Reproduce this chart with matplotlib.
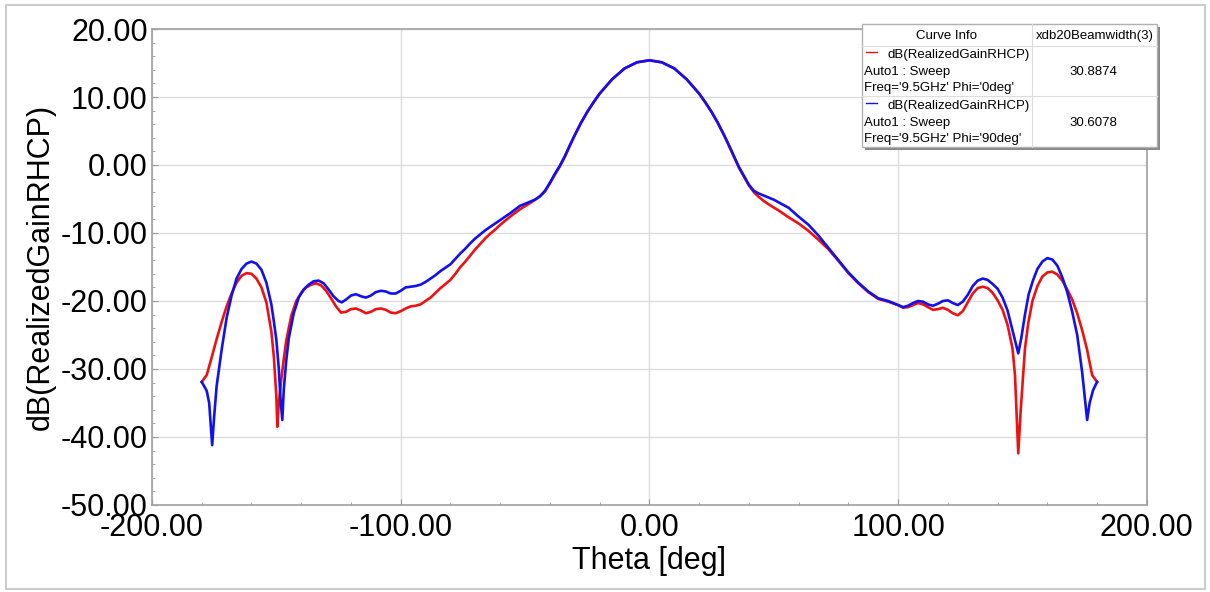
import matplotlib.pyplot as plt
from matplotlib.patches import Rectangle
from matplotlib.ticker import MultipleLocator, FormatStrFormatter

plt.rcParams['font.family'] = ['Liberation Sans', 'DejaVu Sans']

# Phi = 0deg (red)
theta_phi0 = [-180, -178, -176, -174, -172, -170, -168, -166, -164, -162, -160, -158, -156, -154,
              -152, -151, -150, -149.6, -149, -148, -147, -146, -144, -142, -140, -138, -136, -134,
              -132, -130, -128, -126, -124, -122, -120, -118, -116, -114, -112, -110, -108, -106,
              -104, -102, -100, -98, -96, -94, -92, -90, -88, -86, -84, -82, -80, -78, -76, -74,
              -72, -70, -68, -66, -64, -62, -60, -56, -52, -48, -46, -44, -42, -40, -38, -36, -34,
              -32, -30, -27.5, -25, -22.5, -20, -15, -10, -5, 0, 5, 10, 15, 20, 22.5, 25, 27.5, 30,
              32, 34, 36, 38, 40, 42, 44, 46, 48, 52, 56, 60, 64,
              68, 72, 76, 80, 84, 88, 92, 96, 100, 102, 104, 106, 108, 110, 112, 114, 116, 118, 120,
              122, 124, 126, 128, 130, 132, 134, 136, 138, 140, 142, 144, 146, 147, 148.3, 149.3,
              150.3, 151, 152.3, 154, 156, 158, 160, 162, 164, 166, 168, 170, 172, 174, 176, 178, 180]
gain_phi0 = [-31.9, -30.9, -28.3, -25.6, -23.1, -20.8, -18.9, -17.3, -16.3, -15.9, -16.0, -16.7, -18.0, -20.2,
             -24.5, -28.2, -34.0, -38.5, -35.0, -31.5, -28.5, -25.8, -22.2, -20.0, -18.8, -18.0, -17.6, -17.4,
             -17.7, -18.5, -19.6, -20.8, -21.7, -21.6, -21.2, -21.1, -21.4, -21.8, -21.6, -21.2, -21.1, -21.3,
             -21.7, -21.8, -21.5, -21.1, -20.8, -20.7, -20.5, -20.0, -19.5, -18.8, -18.1, -17.5, -16.9, -16.0, -15.0, -14.2,
             -13.3, -12.4, -11.6, -10.8, -10.1, -9.5, -8.8, -7.6, -6.5, -5.6, -5.1, -4.6, -3.9, -2.7, -1.4, -0.2, 1.2,
             2.8, 4.4, 6.2, 7.8, 9.2, 10.5, 12.6, 14.2, 15.1, 15.4, 15.1, 14.2, 12.6, 10.5, 9.2, 7.8, 6.2, 4.4,
             2.8, 1.2, -0.4, -1.7, -3.0, -4.0, -4.7, -5.3, -5.8, -6.7, -7.7, -8.6, -9.7,
             -11.0, -12.4, -14.1, -15.9, -17.4, -18.7, -19.7, -20.1, -20.6, -21.0, -20.9, -20.6, -20.3, -20.5, -20.9, -21.3, -21.2, -21.0, -21.3,
             -21.8, -22.1, -21.5, -20.2, -18.9, -18.1, -17.9, -18.1, -18.8, -19.9, -21.3, -23.5, -27.0, -31.0, -42.4, -36.0,
             -30.6, -27.0, -23.3, -20.0, -17.8, -16.4, -15.8, -15.7, -16.1, -17.0, -18.3, -19.8, -21.8, -24.3, -27.2, -30.9, -31.9]

# Phi = 90deg (blue)
theta_phi90 = [-180, -178, -177, -175.8, -175, -174, -172, -170, -168, -166, -164, -162, -160, -158, -156,
               -154, -152, -151, -150, -149, -148.3, -147.6, -147, -146, -145, -143, -141, -139, -137, -135,
               -133, -131, -129, -127, -125, -123.7, -122, -120, -118, -116, -114, -112, -110, -108, -106,
               -104, -102, -100, -98, -96, -94, -92, -90, -88, -86, -84, -82, -80, -78, -76, -74, -72, -70,
               -68, -66, -64, -62, -60, -56, -52, -48, -46, -44, -42, -40, -38, -36, -34, -32, -30, -27.5,
               -25, -22.5, -20, -15, -10, -5, 0, 5, 10, 15, 20, 22.5, 25, 27.5, 30, 32, 34, 36, 38, 40, 42,
               44, 46, 48, 50, 52, 56, 60, 64, 68, 72, 76, 80, 84, 88, 92,
               96, 100, 102, 104, 106, 108, 110, 112, 114, 116, 118, 120, 122, 124, 126, 128, 130, 132, 134,
               136, 138, 140, 142, 144, 146, 148.3, 149.5, 151, 152.5, 154.3, 156, 158, 160, 162, 164, 166,
               168, 170, 172, 174, 176, 177, 178.4, 180]
gain_phi90 = [-31.9, -33.2, -35.0, -41.2, -37.0, -32.5, -27.2, -22.5, -19.2, -16.7, -15.3, -14.5, -14.2, -14.5, -15.4,
              -17.3, -20.5, -23.0, -25.7, -30.0, -34.5, -37.5, -33.0, -28.7, -25.5, -21.8, -19.5, -18.3, -17.6, -17.1,
              -17.0, -17.4, -18.3, -19.3, -20.0, -20.2, -19.8, -19.2, -19.0, -19.3, -19.5, -19.2, -18.7, -18.5, -18.6,
              -18.9, -18.9, -18.5, -18.0, -17.9, -17.8, -17.6, -17.2, -16.7, -16.2, -15.6, -15.1, -14.6, -13.8, -13.0, -12.3, -11.5, -10.8,
              -10.2, -9.6, -9.1, -8.6, -8.1, -7.1, -6.0, -5.4, -5.1, -4.6, -3.8, -2.6, -1.3, -0.1, 1.3, 2.9, 4.4, 6.2,
              7.8, 9.2, 10.5, 12.6, 14.2, 15.1, 15.4, 15.1, 14.2, 12.6, 10.5, 9.2, 7.8, 6.2, 4.4, 2.9, 1.3, -0.3, -1.6, -2.9, -3.8,
              -4.2, -4.5, -4.8, -5.1, -5.5, -6.3, -7.6, -8.8, -10.4, -12.2, -14.0, -15.8, -17.3, -18.6, -19.6,
              -20.0, -20.6, -20.9, -20.7, -20.3, -20.0, -20.1, -20.5, -20.7, -20.4, -20.0, -19.9, -20.3, -20.6, -20.1, -19.1, -17.8, -17.0, -16.7,
              -16.9, -17.5, -18.2, -19.5, -21.4, -24.3, -27.7, -25.5, -22.0, -19.0, -16.9, -15.3, -14.2, -13.7, -13.9, -14.8, -16.5,
              -18.7, -21.6, -25.0, -30.5, -37.5, -35.0, -33.1, -31.9]

series_names = ["dB(RealizedGainRHCP)\nAuto1 : Sweep\nFreq='9.5GHz' Phi='0deg'",
                "dB(RealizedGainRHCP)\nAuto1 : Sweep\nFreq='9.5GHz' Phi='90deg'"]
beamwidths = ['30.8874', '30.6078']

fig = plt.figure(figsize=(12.1, 5.92), dpi=100)
ax = fig.add_axes([0.1256, 0.147, 0.8222, 0.804])

ax.plot(theta_phi0, gain_phi0, color='#ee1111', lw=1.9, zorder=3)
ax.plot(theta_phi90, gain_phi90, color='#1111ee', lw=1.9, zorder=4)

ax.set_xlim(-200, 200)
ax.set_ylim(-50, 20)
ax.xaxis.set_major_locator(MultipleLocator(100))
ax.xaxis.set_minor_locator(MultipleLocator(20))
ax.yaxis.set_major_locator(MultipleLocator(10))
ax.yaxis.set_minor_locator(MultipleLocator(2))
ax.xaxis.set_major_formatter(FormatStrFormatter('%.2f'))
ax.yaxis.set_major_formatter(FormatStrFormatter('%.2f'))
ax.grid(True, which='major', color='#dcdcdc', lw=1.0)
ax.tick_params(which='both', direction='in', color='#999999', labelsize=22)
ax.tick_params(which='major', length=4)
ax.tick_params(which='minor', length=2.5)
ax.tick_params(axis='y', pad=3)
ax.tick_params(axis='x', pad=6)
ax.tick_params(top=False, right=False, which='both')
for s in ax.spines.values():
    s.set_color('#a0a0a0')
    s.set_linewidth(1.2)

ax.set_xlabel('Theta [deg]', fontsize=22, labelpad=2)
ax.set_ylabel('dB(RealizedGainRHCP)', fontsize=22, labelpad=4)

# curve info box
bx0, bx1, by0, by1 = 862, 1157, 24, 147
W, H = 1210, 592
def fx(px):
    return px / W
def fy(py):
    return 1 - py / H
fig.patches.append(Rectangle((fx(bx0 + 3), fy(by1 + 3)), fx(bx1 - bx0), fy(by0) - fy(by1),
                             transform=fig.transFigure, facecolor='#888888', edgecolor='none', zorder=5))
fig.patches.append(Rectangle((fx(bx0), fy(by1)), fx(bx1 - bx0), fy(by0) - fy(by1),
                             transform=fig.transFigure, facecolor='white', edgecolor='#b0b0b0', lw=1, zorder=6))
col = 1032
fig.add_artist(plt.Line2D([fx(col), fx(col)], [fy(by0), fy(by1)], color='#dddddd', lw=0.8, zorder=7))
for yy in [46, 96]:
    fig.add_artist(plt.Line2D([fx(bx0), fx(bx1)], [fy(yy), fy(yy)], color='#dddddd', lw=0.8, zorder=7))
fig.text(fx(946), fy(36), 'Curve Info', fontsize=9.5, ha='center', va='center', zorder=8)
fig.text(fx(1095), fy(36), 'xdb20Beamwidth(3)', fontsize=9.5, ha='center', va='center', zorder=8)
row_top = [55, 106]
colors = ['#ee1111', '#1111ee']
for i in range(2):
    lines = series_names[i].split('\n')
    fig.add_artist(plt.Line2D([fx(866), fx(877)], [fy(row_top[i] - 3), fy(row_top[i] - 3)],
                              color=colors[i], lw=1, zorder=8))
    fig.text(fx(888), fy(row_top[i]), lines[0], fontsize=9.5, ha='left', va='center', zorder=8)
    fig.text(fx(864), fy(row_top[i] + 17), lines[1], fontsize=9.5, ha='left', va='center', zorder=8)
    fig.text(fx(864), fy(row_top[i] + 33), lines[2], fontsize=9.5, ha='left', va='center', zorder=8)
    fig.text(fx(1093), fy(row_top[i] + 17), beamwidths[i], fontsize=9.5, ha='center', va='center', zorder=8)

# outer frame
fig.patches.append(Rectangle((fx(6), fy(589)), fx(1199), fy(5) - fy(589), transform=fig.transFigure,
                             facecolor='none', edgecolor='#cccccc', lw=1.5, zorder=1))

fig.savefig('out.png', dpi=100)
